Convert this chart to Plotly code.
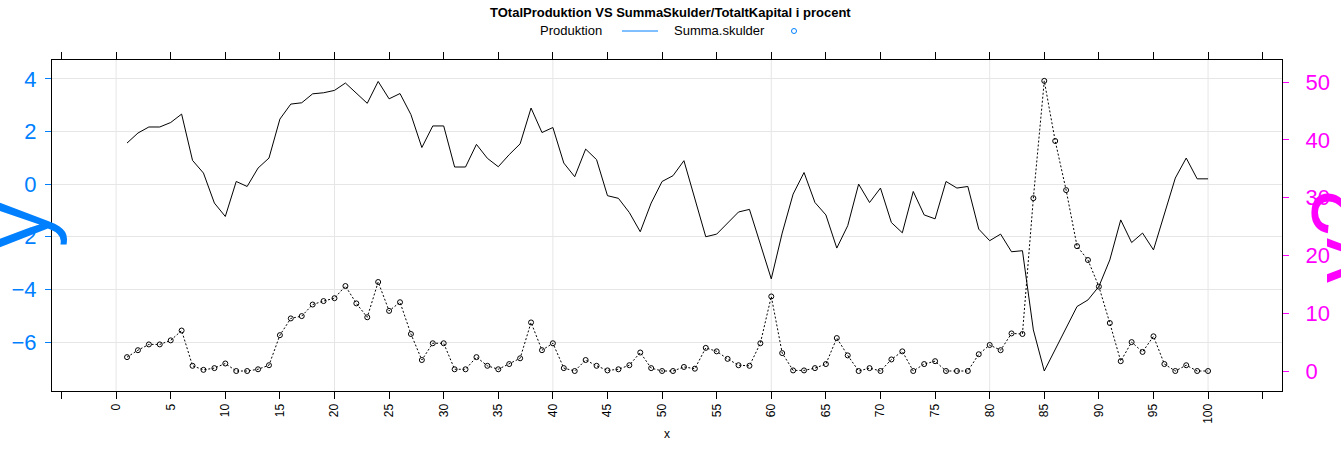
import plotly.graph_objects as go

# ---------------- data ----------------
x_index = list(range(1, 101))

produktion = [
    1.56, 1.94, 2.17, 2.17, 2.34, 2.66, 0.90, 0.42, -0.72, -1.23,
    0.10, -0.09, 0.61, 0.99, 2.47, 3.04, 3.09, 3.43, 3.47, 3.56,
    3.84, 3.46, 3.07, 3.90, 3.24, 3.44, 2.64, 1.39, 2.21, 2.21,
    0.65, 0.65, 1.51, 0.98, 0.66, 1.12, 1.53, 2.89, 1.96, 2.15,
    0.80, 0.28, 1.33, 0.93, -0.44, -0.54, -1.08, -1.81, -0.72, 0.10,
    0.32, 0.89, -0.55, -2.00, -1.90, -1.48, -1.06, -0.96, -2.26, -3.60,
    -1.86, -0.38, 0.44, -0.70, -1.17, -2.43, -1.58, 0.00, -0.70, -0.15,
    -1.46, -1.85, -0.28, -1.17, -1.32, 0.10, -0.15, -0.09, -1.71, -2.15,
    -1.90, -2.57, -2.53, -5.54, -7.10, -6.30, -5.48, -4.65, -4.40, -3.89,
    -2.88, -1.36, -2.22, -1.86, -2.50, -1.13, 0.23, 0.99, 0.20, 0.20,
]

summa_skulder = [
    2.4, 3.6, 4.6, 4.6, 5.3, 7.0, 0.9, 0.2, 0.5, 1.3,
    0.0, 0.0, 0.3, 1.0, 6.2, 9.1, 9.5, 11.5, 12.1, 12.6,
    14.7, 11.7, 9.3, 15.4, 10.4, 11.9, 6.4, 1.9, 4.8, 4.8,
    0.3, 0.3, 2.4, 0.9, 0.3, 1.2, 2.2, 8.4, 3.6, 4.8,
    0.5, 0.0, 1.9, 0.9, 0.1, 0.3, 1.0, 3.2, 0.5, 0.0,
    0.0, 0.7, 0.4, 4.0, 3.4, 2.1, 1.0, 0.9, 4.8, 12.9,
    3.1, 0.1, 0.1, 0.5, 1.2, 5.7, 2.7, 0.0, 0.5, 0.0,
    2.0, 3.4, 0.0, 1.2, 1.7, 0.0, 0.0, 0.0, 2.9, 4.5,
    3.6, 6.5, 6.4, 29.9, 50.2, 39.8, 31.3, 21.6, 19.2, 14.6,
    8.3, 1.7, 5.0, 3.3, 6.0, 1.2, 0.0, 1.0, 0.0, 0.0,
]

x_ticks = list(range(-5, 106, 5))
x_ticklabels = ["" if (v < 0 or v > 100) else str(v) for v in x_ticks]
x_grid = [0, 20, 40, 60, 80, 100]
y_left_ticks = [-6, -4, -2, 0, 2, 4]
y_right_ticks = [0, 10, 20, 30, 40, 50]

title_text = "TOtalProduktion VS SummaSkulder/TotaltKapital i procent"
legend_labels = ["Produktion", "Summa.skulder"]

# ---------------- styling / layout constants ----------------
W, H = 1341, 459
ML, MR, MT, MB = 52, 59, 60, 68
PW, PH = W - ML - MR, H - MT - MB
FONT = "Liberation Sans, Arial, sans-serif"
BLUE = "#0080ff"
MAGENTA = "#ff00ff"
GRID = "#e6e6e6"


def px2paper_x(px):
    return (px - ML) / PW


def px2paper_y(py):
    return (H - MB - py) / PH


fig = go.Figure()

fig.add_trace(go.Scatter(
    x=x_index, y=produktion, name=legend_labels[0], mode="lines",
    line=dict(color="black", width=1), yaxis="y", showlegend=False,
))
fig.add_trace(go.Scatter(
    x=x_index, y=summa_skulder, name=legend_labels[1], mode="lines+markers",
    line=dict(color="black", width=1, dash="2px,2px"),
    marker=dict(symbol="circle-open", size=5, color="black", line=dict(width=1, color="black")),
    yaxis="y2", showlegend=False,
))

shapes = []
for gx in x_grid:
    shapes.append(dict(type="line", xref="x", yref="paper", x0=gx, x1=gx, y0=0, y1=1,
                       line=dict(color=GRID, width=1), layer="below"))
# legend key (text first, then symbol, as in the original)
ly = px2paper_y(31)
shapes.append(dict(type="line", xref="paper", yref="paper",
                   x0=px2paper_x(622), x1=px2paper_x(658), y0=ly, y1=ly,
                   line=dict(color=BLUE, width=1)))
shapes.append(dict(type="circle", xref="paper", yref="paper",
                   xsizemode="pixel", ysizemode="pixel",
                   xanchor=px2paper_x(794), yanchor=ly, x0=-2.5, x1=2.5, y0=-2.5, y1=2.5,
                   line=dict(color=BLUE, width=1)))

annotations = [
    dict(text="<b>" + title_text + "</b>", xref="paper", yref="paper",
         x=px2paper_x(670), y=px2paper_y(12), showarrow=False,
         font=dict(family=FONT, size=13, color="black"), xanchor="center", yanchor="middle"),
    dict(text=legend_labels[0], xref="paper", yref="paper",
         x=px2paper_x(571), y=ly, showarrow=False,
         font=dict(family=FONT, size=13, color="black"), xanchor="center", yanchor="middle"),
    dict(text=legend_labels[1], xref="paper", yref="paper",
         x=px2paper_x(719), y=ly, showarrow=False,
         font=dict(family=FONT, size=13, color="black"), xanchor="center", yanchor="middle"),
    # huge axis labels (partly off-canvas, as in the original)
    dict(text="y", xref="paper", yref="paper", x=px2paper_x(16), y=0.5,
         showarrow=False, textangle=-90, xanchor="center", yanchor="middle",
         font=dict(family=FONT, size=90, color=BLUE)),
    dict(text="y2", xref="paper", yref="paper", x=px2paper_x(1344), y=px2paper_y(235),
         showarrow=False, textangle=-90, xanchor="center", yanchor="middle",
         font=dict(family=FONT, size=90, color=MAGENTA)),
]

fig.update_layout(
    width=W, height=H,
    margin=dict(l=ML, r=MR, t=MT, b=MB, pad=0),
    paper_bgcolor="white", plot_bgcolor="white",
    font=dict(family=FONT, color="black"),
    showlegend=False,
    shapes=shapes, annotations=annotations,
    xaxis=dict(
        range=[-5.87, 106.77], tickmode="array", tickvals=x_ticks, ticktext=x_ticklabels,
        tickangle=-90, ticks="outside", ticklen=7, tickcolor="black", tickwidth=1,
        showline=True, linecolor="black", linewidth=1, mirror="ticks",
        showgrid=False, zeroline=False,
        tickfont=dict(family=FONT, size=12, color="black"),
        title=dict(text="x", font=dict(family=FONT, size=12, color="black"), standoff=6),
    ),
    yaxis=dict(
        range=[-7.86, 4.715], tickmode="array", tickvals=y_left_ticks,
        ticks="outside", ticklen=6, tickcolor=BLUE, tickwidth=1,
        showline=True, linecolor="black", linewidth=1,
        showgrid=True, gridcolor=GRID, gridwidth=1, zeroline=False,
        tickfont=dict(family=FONT, size=22, color=BLUE), ticklabelstandoff=4,
    ),
    yaxis2=dict(
        range=[-3.46, 53.81], tickmode="array", tickvals=y_right_ticks,
        overlaying="y", side="right",
        ticks="outside", ticklen=6, tickcolor=MAGENTA, tickwidth=1,
        showline=True, linecolor="black", linewidth=1,
        showgrid=False, zeroline=False,
        tickfont=dict(family=FONT, size=22, color=MAGENTA), ticklabelstandoff=12,
    ),
)

fig.write_html("out.html")
